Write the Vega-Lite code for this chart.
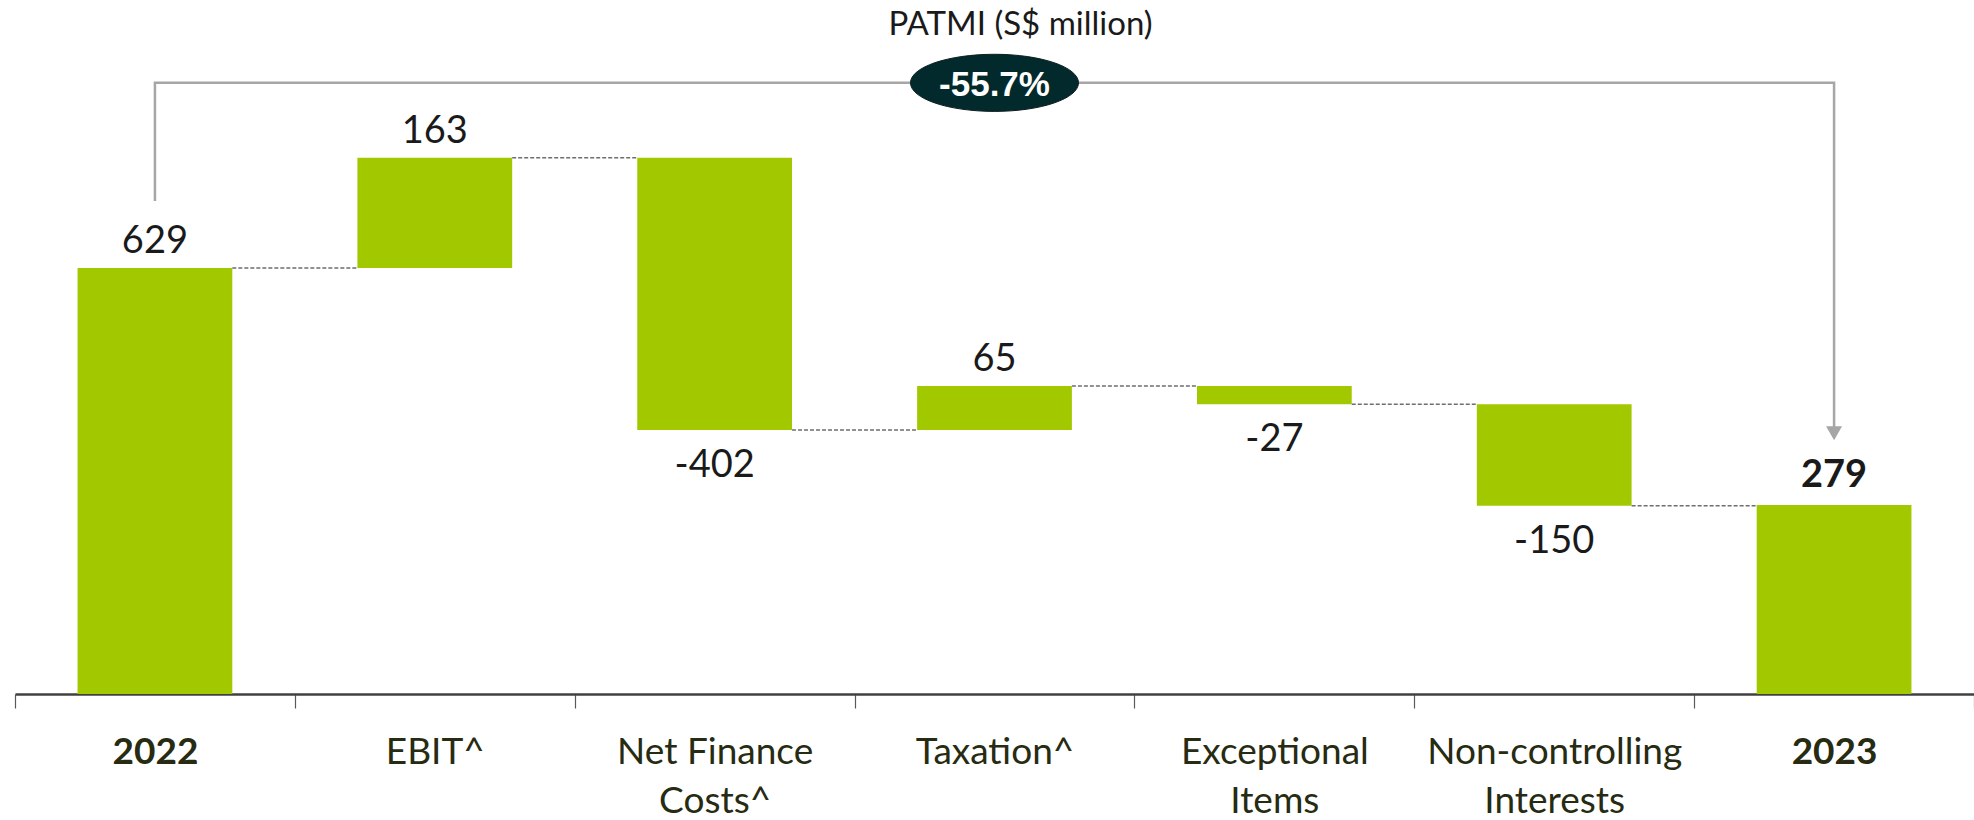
{
  "$schema": "https://vega.github.io/schema/vega-lite/v6.json",
  "width": 1959,
  "height": 644,
  "autosize": {"type": "none"},
  "padding": {"left": 15, "top": 50, "right": 0, "bottom": 126},
  "background": "white",
  "config": {"view": {"stroke": null}, "font": "Lato"},
  "title": {
    "text": "PATMI (S$ million)",
    "anchor": "middle",
    "dx": 26,
    "offset": 8,
    "fontSize": 33,
    "font": "Lato",
    "fontWeight": "normal",
    "color": "#1a1a1a"
  },
  "datasets": {
    "steps": [
      {"category": "2022", "kind": "total", "amount": 629, "start": 0, "end": 629, "next": "EBIT^"},
      {"category": "EBIT^", "kind": "increase", "amount": 163, "start": 629, "end": 792, "next": "Net Finance Costs^"},
      {"category": "Net Finance Costs^", "kind": "decrease", "amount": -402, "start": 792, "end": 390, "next": "Taxation^"},
      {"category": "Taxation^", "kind": "increase", "amount": 65, "start": 390, "end": 455, "next": "Exceptional Items"},
      {"category": "Exceptional Items", "kind": "decrease", "amount": -27, "start": 455, "end": 428, "next": "Non-controlling Interests"},
      {"category": "Non-controlling Interests", "kind": "decrease", "amount": -150, "start": 428, "end": 278, "next": "2023"},
      {"category": "2023", "kind": "total", "amount": 279, "start": 0, "end": 279, "next": null}
    ],
    "bracket": [
      {"category": "2022", "level": 728, "seq": 1},
      {"category": "2022", "level": 902.5, "seq": 2},
      {"category": "2023", "level": 902.5, "seq": 3},
      {"category": "2023", "level": 392, "seq": 4}
    ],
    "arrow": [{"category": "2023", "level": 385}],
    "badge": [{"category": "Taxation^", "level": 902.5, "change": "-55.7%"}]
  },
  "encoding": {
    "x": {
      "field": "category",
      "type": "nominal",
      "sort": null,
      "scale": {
        "domain": ["2022", "EBIT^", "Net Finance Costs^", "Taxation^", "Exceptional Items", "Non-controlling Interests", "2023"],
        "paddingInner": 0,
        "paddingOuter": 0
      },
      "axis": {
        "title": null,
        "domainColor": "#404040",
        "domainWidth": 2.5,
        "tickColor": "#595959",
        "tickWidth": 1.2,
        "tickSize": 14,
        "tickBand": "extent",
        "labelAngle": 0,
        "labelFont": "Lato",
        "labelFontSize": 37,
        "labelColor": "#262b12",
        "labelFontWeight": {"condition": {"test": "datum.value === '2022' || datum.value === '2023'", "value": "bold"}, "value": "normal"},
        "labelBaseline": "alphabetic",
        "labelPadding": 55,
        "labelLineHeight": 49,
        "labelLimit": 400,
        "labelExpr": "datum.value === 'Net Finance Costs^' ? ['Net Finance', 'Costs^'] : datum.value === 'Exceptional Items' ? ['Exceptional', 'Items'] : datum.value === 'Non-controlling Interests' ? ['Non-controlling', 'Interests'] : datum.label"
      }
    }
  },
  "layer": [
    {
      "data": {"name": "steps"},
      "mark": {"type": "bar", "width": {"band": 0.553}, "color": "#a2c800"},
      "encoding": {
        "y": {"field": "end", "type": "quantitative", "scale": {"domain": [0, 951], "nice": false}, "axis": null},
        "y2": {"field": "start"}
      }
    },
    {
      "data": {"name": "steps"},
      "transform": [{"filter": "datum.next != null"}],
      "mark": {"type": "rule", "xOffset": 77.4, "x2Offset": -77.4, "strokeDash": [4, 2], "color": "#6e6e6e", "strokeWidth": 1.5},
      "encoding": {
        "x": {"field": "category", "type": "nominal", "bandPosition": 0.5},
        "x2": {"field": "next"},
        "y": {"field": "end", "type": "quantitative", "scale": {"domain": [0, 951], "nice": false}, "axis": null}
      }
    },
    {
      "data": {"name": "steps"},
      "transform": [{"filter": "datum.kind !== 'decrease' && datum.category !== '2023'"}],
      "mark": {"type": "text", "dy": -15, "baseline": "alphabetic", "fontSize": 38, "font": "Lato", "color": "#1a1a1a"},
      "encoding": {
        "y": {"field": "end", "type": "quantitative", "scale": {"domain": [0, 951], "nice": false}, "axis": null},
        "text": {"field": "amount", "type": "nominal"}
      }
    },
    {
      "data": {"name": "steps"},
      "transform": [{"filter": "datum.kind === 'decrease'"}],
      "mark": {"type": "text", "dy": 47, "baseline": "alphabetic", "fontSize": 38, "font": "Lato", "color": "#1a1a1a"},
      "encoding": {
        "y": {"field": "end", "type": "quantitative", "scale": {"domain": [0, 951], "nice": false}, "axis": null},
        "text": {"field": "amount", "type": "nominal"}
      }
    },
    {
      "data": {"name": "steps"},
      "transform": [{"filter": "datum.category === '2023'"}],
      "mark": {"type": "text", "dy": -18, "baseline": "alphabetic", "fontSize": 38, "font": "Lato", "fontWeight": "bold", "color": "#1a1a1a"},
      "encoding": {
        "y": {"field": "end", "type": "quantitative", "scale": {"domain": [0, 951], "nice": false}, "axis": null},
        "text": {"field": "amount", "type": "nominal"}
      }
    },
    {
      "data": {"name": "bracket"},
      "mark": {"type": "line", "color": "#a6a6a6", "strokeWidth": 2.5},
      "encoding": {
        "y": {"field": "level", "type": "quantitative", "scale": {"domain": [0, 951], "nice": false}, "axis": null},
        "order": {"field": "seq", "type": "quantitative"}
      }
    },
    {
      "data": {"name": "arrow"},
      "mark": {"type": "point", "shape": "triangle-down", "filled": true, "color": "#a6a6a6", "size": 256, "opacity": 1},
      "encoding": {
        "y": {"field": "level", "type": "quantitative", "scale": {"domain": [0, 951], "nice": false}, "axis": null}
      }
    },
    {
      "data": {"name": "badge"},
      "mark": {"type": "point", "shape": "M-1,0A1,0.34,0,1,1,1,0A1,0.34,0,1,1,-1,0Z", "filled": true, "fill": "#022a2d", "stroke": "#0d1d1d", "strokeWidth": 1, "size": 28224, "opacity": 1},
      "encoding": {
        "y": {"field": "level", "type": "quantitative", "scale": {"domain": [0, 951], "nice": false}, "axis": null}
      }
    },
    {
      "data": {"name": "badge"},
      "mark": {"type": "text", "baseline": "middle", "dy": 2, "fontSize": 35, "font": "Liberation Sans", "fontWeight": "bold", "color": "white"},
      "encoding": {
        "y": {"field": "level", "type": "quantitative", "scale": {"domain": [0, 951], "nice": false}, "axis": null},
        "text": {"field": "change", "type": "nominal"}
      }
    }
  ]
}
